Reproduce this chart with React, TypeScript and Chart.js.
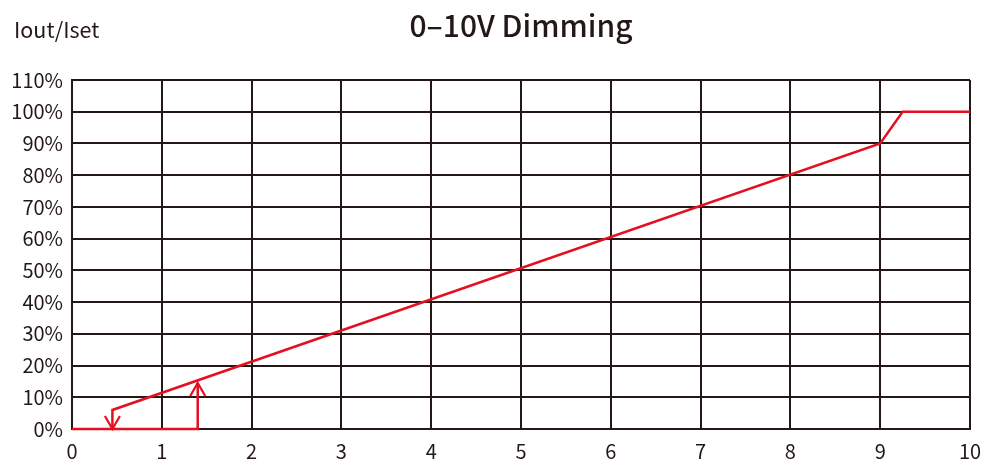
import React, { useEffect, useRef } from "react";
import { Chart, registerables } from "chart.js";

Chart.register(...registerables);

const TITLE = "0–10V Dimming";
const Y_LABEL = "Iout/Iset";
const X_TICKS = [0, 1, 2, 3, 4, 5, 6, 7, 8, 9, 10];
const Y_TICKS = [0, 10, 20, 30, 40, 50, 60, 70, 80, 90, 100, 110];

// Turn-off path: 0 V → 1.4 V at 0 %, then jump up (arrow)
const offX = [0, 1.4, 1.4];
const offY = [0, 0, 14.5];
// Dimming curve, with drop-down (arrow) at 0.45 V
const onX = [0.45, 0.45, 9, 9.25, 10];
const onY = [0, 6, 90, 100, 100];

const RED = "#e50f22";
const INK = "#231815";
const FONT = "'Noto Sans CJK SC', 'Noto Sans', sans-serif";

const arrowPlugin = {
  id: "arrows",
  afterDatasetsDraw(chart: any) {
    const { ctx, scales } = chart;
    const xs = scales.x, ys = scales.y;
    const heads = [
      { x: offX[offX.length - 1], y: offY[offY.length - 1], dir: -1 },
      { x: onX[0], y: onY[0], dir: 1 },
    ];
    ctx.save();
    ctx.strokeStyle = RED;
    ctx.lineWidth = 2.2;
    ctx.lineCap = "butt";
    ctx.lineJoin = "miter";
    for (const h of heads) {
      const px = xs.getPixelForValue(h.x);
      const py = ys.getPixelForValue(h.y);
      ctx.beginPath();
      ctx.moveTo(px - 7.5, py - h.dir * 13);
      ctx.lineTo(px, py);
      ctx.lineTo(px + 7.5, py - h.dir * 13);
      ctx.stroke();
    }
    ctx.restore();
  },
};

const textPlugin = {
  id: "texts",
  afterDraw(chart: any) {
    const { ctx, chartArea } = chart;
    ctx.save();
    ctx.fillStyle = INK;
    ctx.textBaseline = "alphabetic";
    ctx.textAlign = "center";
    ctx.font = `500 30px ${FONT}`;
    ctx.fillText(TITLE, (chartArea.left + chartArea.right) / 2, 37);
    ctx.textAlign = "left";
    ctx.font = `400 21.5px ${FONT}`;
    ctx.fillText(Y_LABEL, 14, 38);
    ctx.restore();
  },
};

export default function App() {
  const ref = useRef<HTMLCanvasElement | null>(null);
  useEffect(() => {
    document.body.style.margin = "0";
    const canvas = ref.current!;
    const line = (xs: number[], ys: number[]) => xs.map((x, i) => ({ x, y: ys[i] }));
    const chart = new Chart(canvas, {
      type: "line",
      data: {
        datasets: [
          {
            data: line(offX, offY),
            borderColor: RED,
            borderWidth: 2.5,
            pointRadius: 0,
            tension: 0,
            clip: false as any,
          },
          {
            data: line(onX, onY),
            borderColor: RED,
            borderWidth: 2.5,
            pointRadius: 0,
            tension: 0,
            clip: false as any,
          },
        ],
      },
      options: {
        animation: false,
        responsive: false,
        maintainAspectRatio: false,
        layout: { padding: { top: 80, right: 12, left: 0, bottom: 0 } },
        plugins: {
          legend: { display: false },
          title: { display: false },
          tooltip: { enabled: false },
        },
        scales: {
          x: {
            type: "linear",
            min: X_TICKS[0],
            max: X_TICKS[X_TICKS.length - 1],
            afterBuildTicks: (s: any) => {
              s.ticks = X_TICKS.map((v) => ({ value: v }));
            },
            afterFit: (s: any) => {
              s.height = 39;
              s.paddingRight = 0;
              s.paddingLeft = 0;
            },
            grid: { color: INK, lineWidth: 2, drawTicks: false },
            border: { color: INK, width: 2 },
            ticks: {
              color: INK,
              padding: 10,
              font: { family: FONT, size: 20 },
              maxRotation: 0,
            },
          },
          y: {
            type: "linear",
            min: Y_TICKS[0],
            max: Y_TICKS[Y_TICKS.length - 1],
            afterBuildTicks: (s: any) => {
              s.ticks = Y_TICKS.map((v) => ({ value: v }));
            },
            afterFit: (s: any) => {
              s.width = 72;
              s.paddingTop = 0;
              s.paddingBottom = 0;
            },
            grid: { color: INK, lineWidth: 2, drawTicks: false },
            border: { color: INK, width: 2 },
            ticks: {
              color: INK,
              padding: 9,
              font: { family: FONT, size: 20 },
              callback: (v: any) => `${v}%`,
            },
          },
        },
      },
      plugins: [arrowPlugin, textPlugin],
    });
    return () => chart.destroy();
  }, []);
  return (
    <div style={{ width: 982, height: 468 }}>
      <canvas ref={ref} width={982} height={468} style={{ display: "block" }} />
    </div>
  );
}
